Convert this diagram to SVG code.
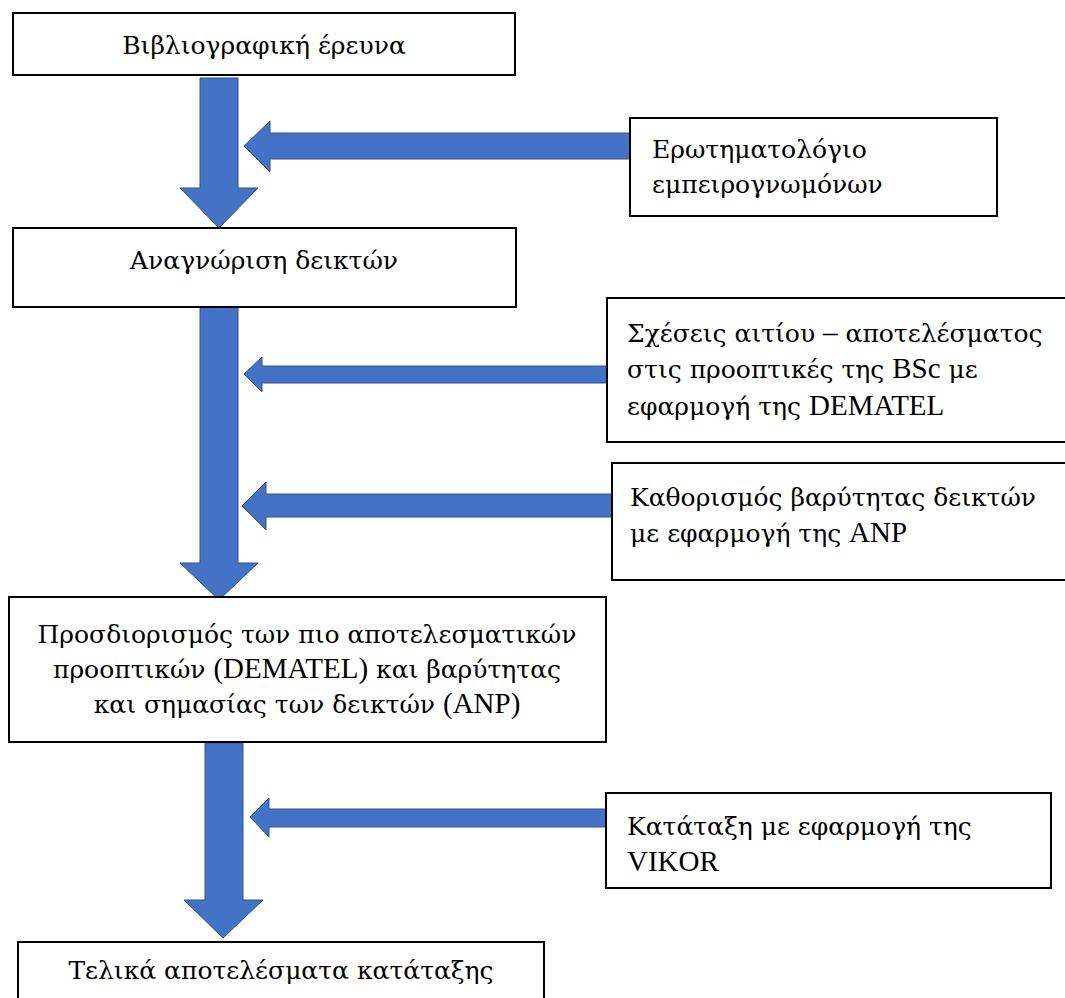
<svg xmlns="http://www.w3.org/2000/svg" width="1065" height="998" viewBox="0 0 1065 998">
  <style>
    .box { fill: #ffffff; stroke: #000000; stroke-width: 2; }
    .arrow { fill: #4472C4; stroke: #2F528F; stroke-width: 1; stroke-linejoin: miter; }
    .t { font-family: "DejaVu Serif", "Liberation Serif", serif; font-size: 25px; fill: #000000; }
    .lat { font-family: "Liberation Serif", "Times New Roman", serif; font-size: 29px; }
    .c { text-anchor: middle; }
  </style>
  <rect width="1065" height="998" fill="#ffffff"/>

  <!-- block arrows: main flow (down) and inputs (left) -->
  <g id="connectors">
    <polygon class="arrow" points="200,78 238,78 238,188 258,188 219,228 180,188 200,188"/>
    <polygon class="arrow" points="200,307 238,307 238,563 258,563 219,600 180,563 200,563"/>
    <polygon class="arrow" points="205,743 243,743 243,900 263,900 223,938 184,900 205,900"/>
    <polygon class="arrow" points="630,133 630,159 270,159 270,172 244,146 270,121 270,133"/>
    <polygon class="arrow" points="607,366 607,383 262,383 262,392 244,374 262,357 262,366"/>
    <polygon class="arrow" points="612,494 612,517 266,517 266,530 242,506 266,482 266,494"/>
    <polygon class="arrow" points="606,809 606,827 269,827 269,837 250,817 269,798 269,809"/>
  </g>

  <g id="node-bibliography">
    <rect class="box" x="13" y="13" width="502" height="62"/>
    <text class="t c" x="264" y="54">Βιβλιογραφική έρευνα</text>
  </g>

  <g id="node-questionnaire">
    <rect class="box" x="630" y="118" width="367" height="98"/>
    <text class="t" x="652" y="158">Ερωτηματολόγιο</text>
    <text class="t" x="652" y="193">εμπειρογνωμόνων</text>
  </g>

  <g id="node-indicators">
    <rect class="box" x="13" y="228" width="503" height="79"/>
    <text class="t c" x="264" y="269">Αναγνώριση δεικτών</text>
  </g>

  <g id="node-dematel">
    <rect class="box" x="607" y="298" width="470" height="144"/>
    <text class="t" x="627" y="342">Σχέσεις αιτίου <tspan class="lat">–</tspan> αποτελέσματος</text>
    <text class="t" x="627" y="378">στις προοπτικές της <tspan class="lat">BSc</tspan> με</text>
    <text class="t" x="627" y="415">εφαρμογή της <tspan class="lat">DEMATEL</tspan></text>
  </g>

  <g id="node-anp">
    <rect class="box" x="612" y="463" width="465" height="117"/>
    <text class="t" x="630" y="506">Καθορισμός βαρύτητας δεικτών</text>
    <text class="t" x="630" y="542">με εφαρμογή της <tspan class="lat">ANP</tspan></text>
  </g>

  <g id="node-results">
    <rect class="box" x="9" y="597" width="597" height="145"/>
    <text class="t c" x="307" y="643">Προσδιορισμός των πιο αποτελεσματικών</text>
    <text class="t c" x="307" y="678">προοπτικών <tspan class="lat">(DEMATEL)</tspan> και βαρύτητας</text>
    <text class="t c" x="307" y="713">και σημασίας των δεικτών <tspan class="lat">(ANP)</tspan></text>
  </g>

  <g id="node-vikor">
    <rect class="box" x="606" y="793" width="445" height="95"/>
    <text class="t" x="627" y="835">Κατάταξη με εφαρμογή της</text>
    <text class="t" x="627" y="871"><tspan class="lat">VIKOR</tspan></text>
  </g>

  <g id="node-ranking">
    <rect class="box" x="18" y="942" width="526" height="70"/>
    <text class="t c" x="281" y="979">Τελικά αποτελέσματα κατάταξης</text>
  </g>
</svg>
